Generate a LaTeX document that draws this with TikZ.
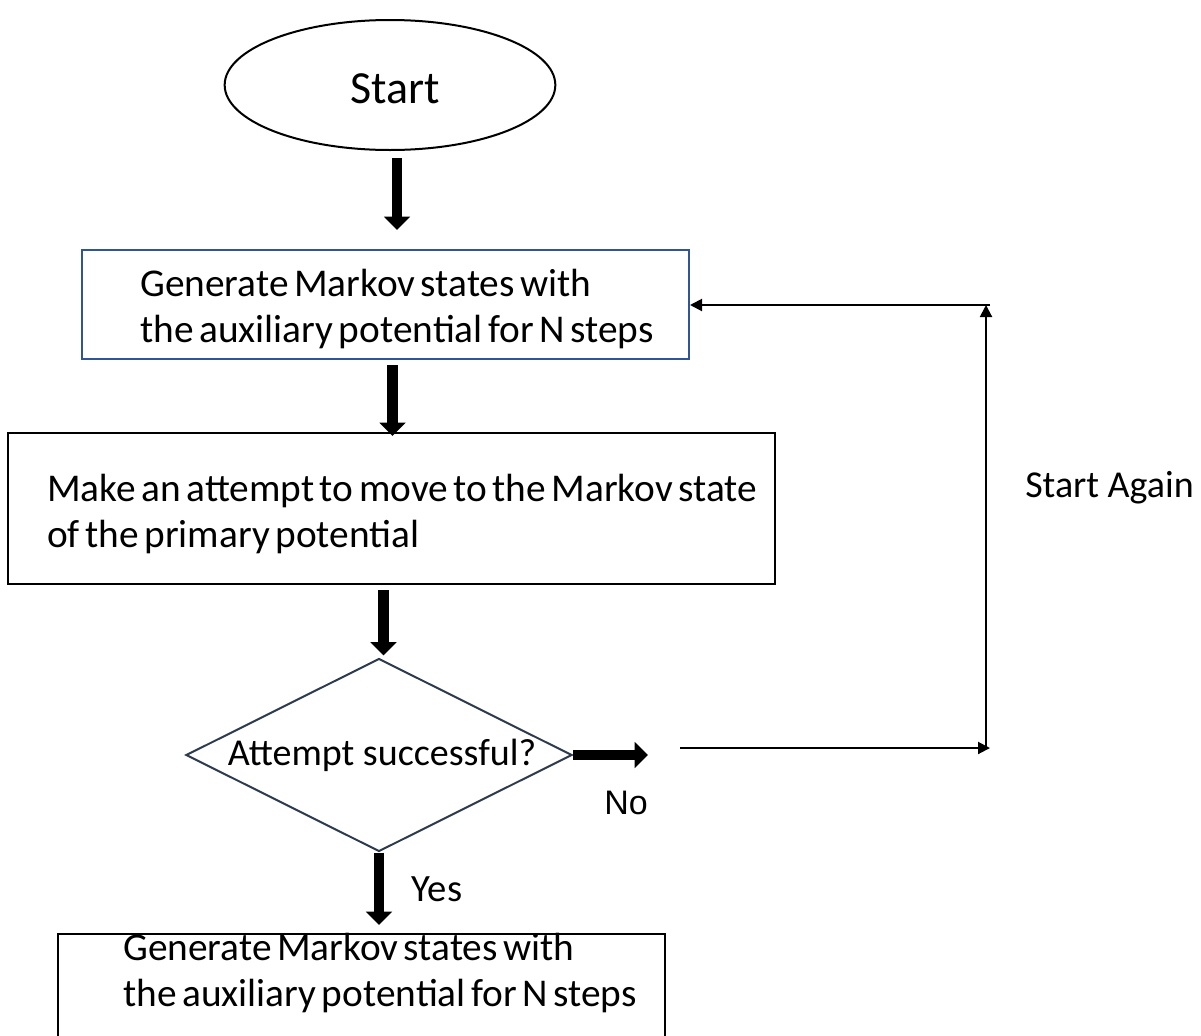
\documentclass[tikz,border=0pt]{standalone}
\usepackage{fontspec}
\setmainfont{Carlito}
\newfontfamily\arialfont{Liberation Sans}
\usetikzlibrary{shapes.geometric,arrows.meta,calc}
\definecolor{boxblue}{HTML}{2F5597}
\definecolor{slateedge}{HTML}{2E3B4C}
\newcommand\boxfont{\fontsize{29.5pt}{34.5pt}\selectfont\spaceskip=4.2pt plus 0.5pt\relax}
\tikzset{
  bigarrow/.style={line width=8pt,-{Triangle[width=19pt,length=10pt]}},
  thinarrow/.style={line width=1.5pt,-{Triangle[width=9pt,length=9pt]}},
  plainbox/.style={draw,line width=1.5pt,rectangle,inner sep=0pt},
  bodytext/.style={font=\boxfont,inner sep=0pt,align=left},
}
\begin{document}
\begin{tikzpicture}[x=0.75pt,y=-0.75pt]
\useasboundingbox (0,0) rectangle (1201,1035);
\clip (0,0) rectangle (1201,1035);
\fill[white] (0,0) rectangle (1201,1035);

\node[draw,line width=1.5pt,ellipse,minimum width=248pt,minimum height=97.5pt,inner sep=0pt] (start) at (390,85) {};
\node[font=\fontsize{34.5pt}{40pt}\selectfont,inner sep=0pt] (starttext) at (395,89) {Start};

\node[plainbox,draw=boxblue,minimum width=455.25pt,minimum height=81.75pt] (box1) at (385.5,304.5) {};
\node[bodytext,anchor=west] (box1text) at (140,309)
  {Generate Markov states with\\the auxiliary potential for N steps};

\node[plainbox,minimum width=575.25pt,minimum height=113.25pt] (box2) at (391.5,508.5) {};
\node[bodytext,anchor=west] (box2text) at (47,514)
  {Make an attempt to move to the Markov state\\of the primary potential};

\node[diamond,draw=slateedge,line width=1.5pt,minimum width=289.5pt,minimum height=144.75pt,inner sep=0pt] (dec) at (379,755) {};
\node[font=\fontsize{28.5pt}{34.5pt}\selectfont,inner sep=0pt] (dectext) at (382,755) {Attempt successful?};

\node[plainbox,anchor=north west,minimum width=455.25pt,minimum height=150pt] (box3) at (57,933) {};
\node[bodytext,anchor=west] (box3text) at (123,973)
  {Generate Markov states with\\the auxiliary potential for N steps};

\node[font=\fontsize{25.5pt}{30pt}\arialfont] (no) at (626,803) {No};
\node[font=\fontsize{29pt}{34pt}\selectfont] (yes) at (437,889) {Yes};
\node[font=\fontsize{28.5pt}{34pt}\selectfont,anchor=west,inner sep=0pt] (again) at (1025,488) {Start Again};

% thick arrows
\draw[bigarrow] ([xshift=5.25pt,yshift=-5.25pt]start.south) -- ([xshift=5.25pt]start.south |- 0,230);
\draw[bigarrow] ([xshift=5.25pt,yshift=-3.75pt]box1.south) -- ([xshift=5.25pt,yshift=-3pt]box1.south |- box2.north);
\draw[bigarrow] ([xshift=-6pt,yshift=-3.75pt]box2.south) -- ([xshift=-6pt,yshift=1.5pt]box2.south |- dec.north);
\draw[bigarrow] (dec.south) -- ([yshift=6pt]dec.south |- box3.north);
\draw[bigarrow] (dec.east) -- ++(56.25pt,0) coordinate (noend);

% loop back
\coordinate (l1) at (680,748);
\coordinate (l2) at (990,748);
\coordinate (l3) at (986,748);
\coordinate (l4) at (986,305);
\coordinate (l5) at (990,305);
\draw[thinarrow] (l1) -- (l2);
\draw[thinarrow] (l3) -- (l4);
\draw[thinarrow] (l5) -- (l5 -| box1.east);
\end{tikzpicture}
\end{document}
